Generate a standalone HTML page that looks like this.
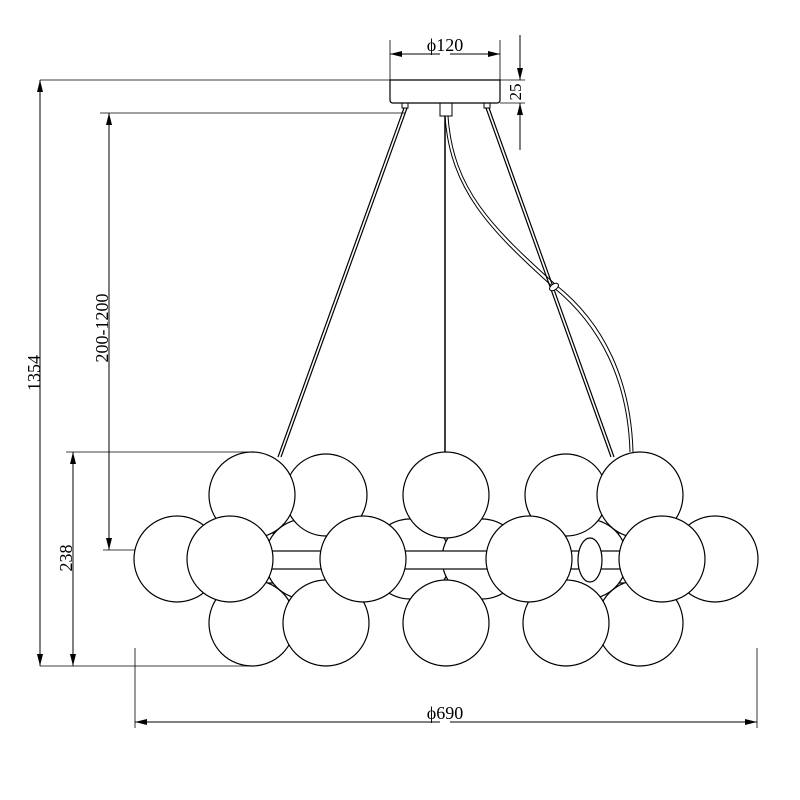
<!DOCTYPE html>
<html><head><meta charset="utf-8"><style>html,body{margin:0;padding:0;background:#fff}svg{display:block}</style></head>
<body>
<svg width="800" height="800" viewBox="0 0 800 800" xmlns="http://www.w3.org/2000/svg">
<defs>
<marker id="a" markerWidth="12" markerHeight="8" refX="12" refY="4" orient="auto" markerUnits="userSpaceOnUse"><path d="M0,1 L12,4 L0,7 Z" fill="#000"/></marker>
</defs>
<g stroke="#000" fill="none" stroke-width="1">
<line x1="40" y1="80" x2="525" y2="80" stroke-width="0.8"/>
<line x1="100" y1="113" x2="405" y2="113" stroke-width="0.8"/>
<line x1="66" y1="452" x2="255" y2="452" stroke-width="0.8"/>
<line x1="103" y1="550" x2="140" y2="550" stroke-width="0.8"/>
<line x1="40" y1="666" x2="255" y2="666" stroke-width="0.8"/>
<line x1="500" y1="103" x2="525" y2="103" stroke-width="0.8"/>
<line x1="40" y1="560" x2="40" y2="80" marker-end="url(#a)"/>
<line x1="40" y1="200" x2="40" y2="666" marker-end="url(#a)"/>
<line x1="109" y1="300" x2="109" y2="113" marker-end="url(#a)"/>
<line x1="109" y1="300" x2="109" y2="550" marker-end="url(#a)"/>
<line x1="73" y1="560" x2="73" y2="452" marker-end="url(#a)"/>
<line x1="73" y1="560" x2="73" y2="666" marker-end="url(#a)"/>
<line x1="520" y1="35" x2="520" y2="80" marker-end="url(#a)"/>
<line x1="520" y1="150" x2="520" y2="103" marker-end="url(#a)"/>
<line x1="390" y1="40" x2="390" y2="80" stroke-width="0.8"/>
<line x1="500" y1="40" x2="500" y2="80" stroke-width="0.8"/>
<line x1="440" y1="54" x2="390" y2="54" marker-end="url(#a)"/>
<line x1="450" y1="54" x2="500" y2="54" marker-end="url(#a)"/>
<line x1="135" y1="648" x2="135" y2="728" stroke-width="0.8"/>
<line x1="757" y1="648" x2="757" y2="728" stroke-width="0.8"/>
<line x1="440" y1="722" x2="135" y2="722" marker-end="url(#a)"/>
<line x1="450" y1="722" x2="757" y2="722" marker-end="url(#a)"/>
<path d="M390,80 H500 V100 Q500,103 497,103 H393 Q390,103 390,100 Z" stroke-width="1.2"/>
<rect x="440" y="103" width="12" height="13"/>
<rect x="402" y="103" width="6" height="5"/>
<rect x="484" y="103" width="6" height="5"/>
<line x1="404" y1="108" x2="278" y2="457" stroke-width="1.2"/>
<line x1="407" y1="108" x2="281" y2="457" stroke-width="1.2"/>
<line x1="486" y1="108" x2="611" y2="457" stroke-width="1.2"/>
<line x1="489" y1="108" x2="614" y2="457" stroke-width="1.2"/>
<line x1="445" y1="116" x2="445" y2="452" stroke-width="1.5"/>
<path d="M445,116 C450,190 490,230 553,287 C600,325 628,380 630,452" stroke-width="1"/>
<path d="M448,116 C453,190 493,228 556,285 C604,323 631,380 633,452" stroke-width="1"/>
<ellipse cx="554" cy="287" rx="5" ry="3" transform="rotate(-35 554 287)" fill="#fff"/>
</g>
<g stroke="#000" stroke-width="1.2" fill="#fff">
<line x1="250" y1="533" x2="640" y2="533"/>
<line x1="250" y1="583" x2="640" y2="583"/>
<circle cx="446" cy="559" r="40"/>
<circle cx="305" cy="559" r="40"/>
<circle cx="587" cy="559" r="40"/>
<circle cx="410" cy="559" r="40"/>
<circle cx="482" cy="559" r="40"/>
<rect x="250" y="551" width="392" height="18"/>
<ellipse cx="590" cy="560" rx="12" ry="22"/>
<circle cx="326" cy="495" r="41"/>
<circle cx="566" cy="495" r="41"/>
<circle cx="252" cy="495" r="43"/>
<circle cx="640" cy="495" r="43"/>
<circle cx="446" cy="495" r="43"/>
<circle cx="252" cy="623" r="43"/>
<circle cx="640" cy="623" r="43"/>
<circle cx="326" cy="623" r="43"/>
<circle cx="566" cy="623" r="43"/>
<circle cx="446" cy="623" r="43"/>
<circle cx="177" cy="559" r="43"/>
<circle cx="715" cy="559" r="43"/>
<circle cx="230" cy="559" r="43"/>
<circle cx="363" cy="559" r="43"/>
<circle cx="529" cy="559" r="43"/>
<circle cx="662" cy="559" r="43"/>
</g>
<g font-family="Liberation Serif, serif" font-size="18" fill="#000" text-anchor="middle">
<text x="445" y="51">ϕ120</text>
<text x="445" y="719">ϕ690</text>
<text transform="translate(517,92) rotate(-90)" font-size="17" dominant-baseline="middle">25</text>
<text transform="translate(40,373) rotate(-90)">1354</text>
<text transform="translate(108,328) rotate(-90)">200-1200</text>
<text transform="translate(72,558) rotate(-90)">238</text>
</g>
</svg>
</body></html>
